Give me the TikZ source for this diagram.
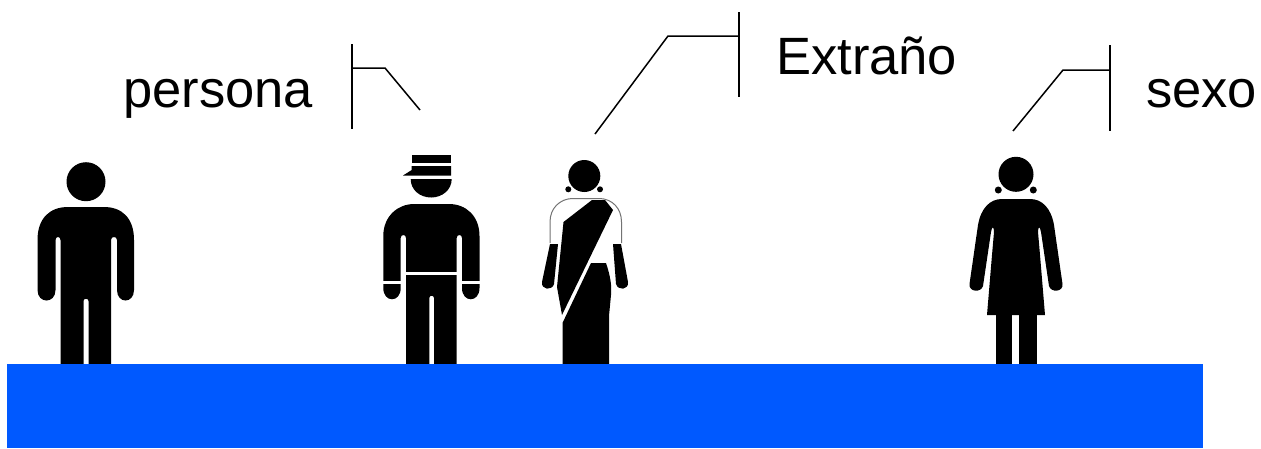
\documentclass[tikz,border=0pt]{standalone}
\usepackage{fontspec}
\setmainfont{Liberation Sans}
\definecolor{floorblue}{HTML}{0059FF}
\tikzset{
  lbl/.style={font=\fontsize{52.5}{60}\selectfont,inner sep=0pt,anchor=base west},
  callout/.style={draw=black,line width=1.5pt},
  fig/.style={fill=black,draw=none},
  gap/.style={fill=white,draw=none},
}
\begin{document}
\begin{tikzpicture}[x=1pt,y=-1pt]
\useasboundingbox (0,0) rectangle (1261,448);
% person 1
\fill[fig] (86,181.7) circle[radius=19.5];
\fill[fig] (37.5,290) -- (37.5,240) .. controls (37.5,218) and (50,207) .. (68,207) -- (104,207) .. controls (122,207) and (134,218) .. (134,240) -- (134,290) .. controls (134,304) and (117,304) .. (117,290) -- (117,240) .. controls (117,236) and (111,236) .. (111,240) -- (111,364) -- (88.5,364) -- (88.5,301) .. controls (88.5,298) and (83.5,298) .. (83.5,301) -- (83.5,364) -- (60.5,364) -- (60.5,240) .. controls (60.5,236) and (55.5,236) .. (55.5,240) -- (55.5,290) .. controls (55.5,304) and (37.5,304) .. (37.5,290) -- cycle;
% person 2
\fill[fig] (411.7,155) rectangle (451,163);
\fill[fig] (411.7,166) -- (451,166) -- (451,175.5) -- (403,175.5) -- (411.7,170) -- cycle;
\fill[fig] (410.7,179) -- (451.7,179) .. controls (451.7,190) and (442,197.5) .. (431.2,197.5) .. controls (420,197.5) and (410.7,190) .. (410.7,179) -- cycle;
\fill[fig] (383.3,288) -- (383.3,236) .. controls (383.3,216) and (398,204) .. (414,204) -- (449,204) .. controls (466,204) and (479.5,216) .. (479.5,236) -- (479.5,288) .. controls (479.5,303) and (462,303) .. (462,288) -- (462,238) .. controls (462,234) and (456.7,234) .. (456.7,238) -- (456.7,364) -- (434,364) -- (434,298) .. controls (434,295) and (429.3,295) .. (429.3,298) -- (429.3,364) -- (406,364) -- (406,238) .. controls (406,234) and (400.7,234) .. (400.7,238) -- (400.7,288) .. controls (400.7,303) and (383.3,303) .. (383.3,288) -- cycle;
\fill[gap] (404,272) rectangle (458,275);
\fill[gap] (381,281.2) rectangle (402,283.5);
\fill[gap] (461,281.2) rectangle (482,283.5);
% person 3
\fill[fig] (584.3,176) circle[radius=16];
\fill[fig] (568.3,189.3) circle[radius=3];
\fill[fig] (600,189.3) circle[radius=3];
\draw[black!55,line width=1pt,fill=white] (550,243) -- (550,222) .. controls (550,208) and (560,199) .. (572,198.5) -- (600,198.5) .. controls (612,199) and (621.5,208) .. (621.5,222) -- (621.5,243);
\fill[fig] (563.5,222) -- (592,200) -- (605,200) -- (613,210) -- (562,315) -- (557,287) -- cycle;
\fill[fig] (550,244) -- (558,244) -- (554,284) .. controls (552,291) and (541,290) .. (542,282) -- cycle;
\fill[fig] (613,244) -- (621,244) -- (628,282) .. controls (629,290) and (618,291) .. (616,284) -- cycle;
\fill[fig] (591,263) -- (606,263) .. controls (610,275) and (612,285) .. (611,295) -- (609,316) -- (609,364) -- (562.5,364) -- (562.5,323) -- cycle;
% person 4
\fill[fig] (1016,174.3) circle[radius=17.5];
\fill[fig] (998.3,190) circle[radius=3.5];
\fill[fig] (1033.3,190) circle[radius=3.5];
\fill[fig] (969.5,284) -- (978,225) .. controls (981,208) and (990,199) .. (1002,199) -- (1030,199) .. controls (1042,199) and (1051,208) .. (1054,225) -- (1062.5,284) .. controls (1063.5,292) and (1051,293) .. (1049,286) -- (1041,232) .. controls (1040,226) and (1038,226) .. (1038,232) -- (1040,255) -- (1045,315) -- (987,315) -- (992,255) -- (994,232) .. controls (994,226) and (992,226) .. (991,232) -- (983,286) .. controls (981,293) and (968.5,292) .. (969.5,284) -- cycle;
\fill[fig] (995.7,314) rectangle (1012.3,364);
\fill[fig] (1019,314) rectangle (1036.7,364);
% floor
\fill[floorblue] (7,364) rectangle (1203,448);
% labels
\node[lbl] (persona) at (123,107) {persona};
\node[lbl] (extrano) at (776,74) {Extraño};
\node[lbl] (sexo) at (1146,107) {sexo};
% callouts
\coordinate (a1) at (352,44); \coordinate (a2) at (352,129); \coordinate (a3) at (352,68); \coordinate (a4) at (385,68); \coordinate (a5) at (420,110);
\draw[callout] (a1) -- (a2);
\draw[callout] (a3) -- (a4) -- (a5);
\coordinate (b1) at (739,12); \coordinate (b2) at (739,97); \coordinate (b3) at (739,36); \coordinate (b4) at (668,36); \coordinate (b5) at (595,134);
\draw[callout] (b1) -- (b2);
\draw[callout] (b3) -- (b4) -- (b5);
\coordinate (c1) at (1110,45); \coordinate (c2) at (1110,131); \coordinate (c3) at (1110,70); \coordinate (c4) at (1063,70); \coordinate (c5) at (1013,131);
\draw[callout] (c1) -- (c2);
\draw[callout] (c3) -- (c4) -- (c5);
\end{tikzpicture}
\end{document}
